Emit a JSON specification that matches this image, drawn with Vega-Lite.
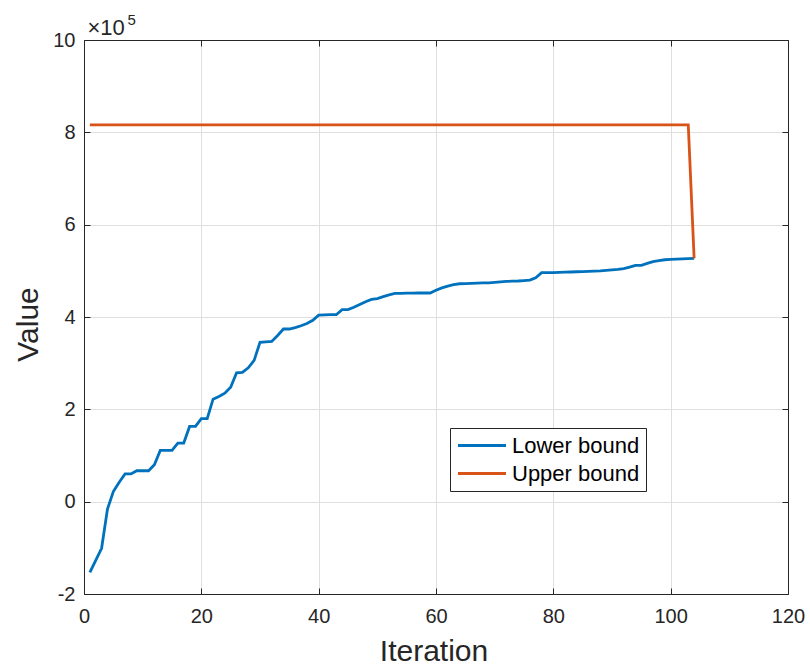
{
  "$schema": "https://vega.github.io/schema/vega-lite/v6.json",
  "autosize": {"type": "none"},
  "width": 704,
  "height": 554,
  "padding": {"left": 84, "top": 40, "right": 22, "bottom": 73},
  "background": "white",
  "data": {"values": [
    {"iteration":1,"Lower bound":-153000,"Upper bound":816000},
    {"iteration":2,"Lower bound":-127000,"Upper bound":816000},
    {"iteration":3,"Lower bound":-101000,"Upper bound":816000},
    {"iteration":4,"Lower bound":-16000,"Upper bound":816000},
    {"iteration":5,"Lower bound":22000,"Upper bound":816000},
    {"iteration":6,"Lower bound":42000,"Upper bound":816000},
    {"iteration":7,"Lower bound":60000,"Upper bound":816000},
    {"iteration":8,"Lower bound":60000,"Upper bound":816000},
    {"iteration":9,"Lower bound":67000,"Upper bound":816000},
    {"iteration":10,"Lower bound":67000,"Upper bound":816000},
    {"iteration":11,"Lower bound":67000,"Upper bound":816000},
    {"iteration":12,"Lower bound":80000,"Upper bound":816000},
    {"iteration":13,"Lower bound":111000,"Upper bound":816000},
    {"iteration":14,"Lower bound":111000,"Upper bound":816000},
    {"iteration":15,"Lower bound":111000,"Upper bound":816000},
    {"iteration":16,"Lower bound":127000,"Upper bound":816000},
    {"iteration":17,"Lower bound":127000,"Upper bound":816000},
    {"iteration":18,"Lower bound":163000,"Upper bound":816000},
    {"iteration":19,"Lower bound":163000,"Upper bound":816000},
    {"iteration":20,"Lower bound":180000,"Upper bound":816000},
    {"iteration":21,"Lower bound":180000,"Upper bound":816000},
    {"iteration":22,"Lower bound":222000,"Upper bound":816000},
    {"iteration":23,"Lower bound":228000,"Upper bound":816000},
    {"iteration":24,"Lower bound":235000,"Upper bound":816000},
    {"iteration":25,"Lower bound":248000,"Upper bound":816000},
    {"iteration":26,"Lower bound":279000,"Upper bound":816000},
    {"iteration":27,"Lower bound":280000,"Upper bound":816000},
    {"iteration":28,"Lower bound":290000,"Upper bound":816000},
    {"iteration":29,"Lower bound":306000,"Upper bound":816000},
    {"iteration":30,"Lower bound":345000,"Upper bound":816000},
    {"iteration":31,"Lower bound":346000,"Upper bound":816000},
    {"iteration":32,"Lower bound":347000,"Upper bound":816000},
    {"iteration":33,"Lower bound":360000,"Upper bound":816000},
    {"iteration":34,"Lower bound":374000,"Upper bound":816000},
    {"iteration":35,"Lower bound":374000,"Upper bound":816000},
    {"iteration":36,"Lower bound":377000,"Upper bound":816000},
    {"iteration":37,"Lower bound":381000,"Upper bound":816000},
    {"iteration":38,"Lower bound":386000,"Upper bound":816000},
    {"iteration":39,"Lower bound":393000,"Upper bound":816000},
    {"iteration":40,"Lower bound":404000,"Upper bound":816000},
    {"iteration":41,"Lower bound":404500,"Upper bound":816000},
    {"iteration":42,"Lower bound":405000,"Upper bound":816000},
    {"iteration":43,"Lower bound":405000,"Upper bound":816000},
    {"iteration":44,"Lower bound":416000,"Upper bound":816000},
    {"iteration":45,"Lower bound":416000,"Upper bound":816000},
    {"iteration":46,"Lower bound":421000,"Upper bound":816000},
    {"iteration":47,"Lower bound":427000,"Upper bound":816000},
    {"iteration":48,"Lower bound":433000,"Upper bound":816000},
    {"iteration":49,"Lower bound":438000,"Upper bound":816000},
    {"iteration":50,"Lower bound":440000,"Upper bound":816000},
    {"iteration":51,"Lower bound":444000,"Upper bound":816000},
    {"iteration":52,"Lower bound":448000,"Upper bound":816000},
    {"iteration":53,"Lower bound":451000,"Upper bound":816000},
    {"iteration":54,"Lower bound":451000,"Upper bound":816000},
    {"iteration":55,"Lower bound":451500,"Upper bound":816000},
    {"iteration":56,"Lower bound":451500,"Upper bound":816000},
    {"iteration":57,"Lower bound":452000,"Upper bound":816000},
    {"iteration":58,"Lower bound":452000,"Upper bound":816000},
    {"iteration":59,"Lower bound":452000,"Upper bound":816000},
    {"iteration":60,"Lower bound":458000,"Upper bound":816000},
    {"iteration":61,"Lower bound":463000,"Upper bound":816000},
    {"iteration":62,"Lower bound":467000,"Upper bound":816000},
    {"iteration":63,"Lower bound":470000,"Upper bound":816000},
    {"iteration":64,"Lower bound":472000,"Upper bound":816000},
    {"iteration":65,"Lower bound":472500,"Upper bound":816000},
    {"iteration":66,"Lower bound":473000,"Upper bound":816000},
    {"iteration":67,"Lower bound":473500,"Upper bound":816000},
    {"iteration":68,"Lower bound":474000,"Upper bound":816000},
    {"iteration":69,"Lower bound":474000,"Upper bound":816000},
    {"iteration":70,"Lower bound":475000,"Upper bound":816000},
    {"iteration":71,"Lower bound":476000,"Upper bound":816000},
    {"iteration":72,"Lower bound":477000,"Upper bound":816000},
    {"iteration":73,"Lower bound":477500,"Upper bound":816000},
    {"iteration":74,"Lower bound":478000,"Upper bound":816000},
    {"iteration":75,"Lower bound":479000,"Upper bound":816000},
    {"iteration":76,"Lower bound":480000,"Upper bound":816000},
    {"iteration":77,"Lower bound":485000,"Upper bound":816000},
    {"iteration":78,"Lower bound":496000,"Upper bound":816000},
    {"iteration":79,"Lower bound":496000,"Upper bound":816000},
    {"iteration":80,"Lower bound":496000,"Upper bound":816000},
    {"iteration":81,"Lower bound":496500,"Upper bound":816000},
    {"iteration":82,"Lower bound":497000,"Upper bound":816000},
    {"iteration":83,"Lower bound":497500,"Upper bound":816000},
    {"iteration":84,"Lower bound":498000,"Upper bound":816000},
    {"iteration":85,"Lower bound":498500,"Upper bound":816000},
    {"iteration":86,"Lower bound":499000,"Upper bound":816000},
    {"iteration":87,"Lower bound":499500,"Upper bound":816000},
    {"iteration":88,"Lower bound":500000,"Upper bound":816000},
    {"iteration":89,"Lower bound":501000,"Upper bound":816000},
    {"iteration":90,"Lower bound":502000,"Upper bound":816000},
    {"iteration":91,"Lower bound":503000,"Upper bound":816000},
    {"iteration":92,"Lower bound":505000,"Upper bound":816000},
    {"iteration":93,"Lower bound":508000,"Upper bound":816000},
    {"iteration":94,"Lower bound":512000,"Upper bound":816000},
    {"iteration":95,"Lower bound":512000,"Upper bound":816000},
    {"iteration":96,"Lower bound":516000,"Upper bound":816000},
    {"iteration":97,"Lower bound":520000,"Upper bound":816000},
    {"iteration":98,"Lower bound":522000,"Upper bound":816000},
    {"iteration":99,"Lower bound":524000,"Upper bound":816000},
    {"iteration":100,"Lower bound":525000,"Upper bound":816000},
    {"iteration":101,"Lower bound":525500,"Upper bound":816000},
    {"iteration":102,"Lower bound":526000,"Upper bound":816000},
    {"iteration":103,"Lower bound":526500,"Upper bound":816000},
    {"iteration":104,"Lower bound":527000,"Upper bound":527000}
  ]},
  "transform": [{"fold": ["Lower bound", "Upper bound"], "as": ["series", "value"]}],
  "config": {
    "font": "Liberation Sans",
    "view": {"stroke": null},
    "axis": {
      "domainColor": "#262626",
      "tickColor": "#262626",
      "labelColor": "#262626",
      "titleColor": "#262626",
      "labelFont": "Liberation Sans",
      "titleFont": "Liberation Sans",
      "labelFontSize": 20,
      "titleFontSize": 30,
      "titleFontWeight": "normal",
      "gridColor": "#dfdfdf",
      "gridWidth": 1,
      "tickSize": -6,
      "domainWidth": 1
    }
  },
  "layer": [
    {
      "mark": {"type": "line", "strokeWidth": 2.8, "clip": true},
      "encoding": {
        "x": {"field": "iteration", "type": "quantitative",
          "scale": {"domain": [0, 120], "nice": false},
          "axis": {"title": "Iteration", "values": [0,20,40,60,80,100,120], "labelPadding": 18, "titleX": 349.5, "titleY": 66, "titleBaseline": "alphabetic", "labelFlush": false}},
        "y": {"field": "value", "type": "quantitative",
          "scale": {"domain": [-200000, 1000000], "nice": false, "zero": false},
          "axis": {"title": "Value", "values": [-200000,0,200000,400000,600000,800000,1000000], "labelExpr": "'' + datum.value / 100000", "labelPadding": 15, "titleX": -47, "titleY": 284, "titleBaseline": "alphabetic", "labelFlush": false}},
        "color": {"field": "series", "type": "nominal",
          "scale": {"domain": ["Lower bound", "Upper bound"], "range": ["#0072BD", "#D95319"]},
          "legend": {"title": null, "orient": "none", "legendX": 366, "legendY": 388,
            "strokeColor": "#262626", "fillColor": "white", "padding": 6,
            "labelFontSize": 22, "labelColor": "#000000", "labelFont": "Liberation Sans",
            "symbolType": "M-2.4,0H2.4", "symbolSize": 400, "symbolStrokeWidth": 2.8,
            "symbolOffset": 14.5, "labelOffset": 18.5,
            "rowPadding": 5, "cornerRadius": 0}}
      }
    },
    {
      "mark": {"type": "line", "opacity": 0},
      "encoding": {
        "x": {"field": "iteration", "type": "quantitative",
          "axis": {"orient": "top", "labels": false, "title": "×10", "titleFontSize": 22, "titleX": 3, "titleY": -6, "titleAlign": "left", "titleBaseline": "alphabetic", "grid": false, "values": [0,20,40,60,80,100,120]}},
        "y": {"field": "value", "type": "quantitative",
          "axis": {"orient": "right", "labels": false, "title": "5", "titleFontSize": 15, "titleAngle": 0, "titleX": -661, "titleY": -16, "titleAlign": "left", "titleBaseline": "alphabetic", "grid": false, "values": [-200000,0,200000,400000,600000,800000,1000000]}},
        "detail": {"field": "series"}
      }
    }
  ],
  "resolve": {"axis": {"x": "independent", "y": "independent"}}
}
